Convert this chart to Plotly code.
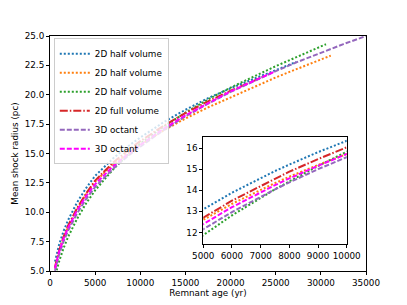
import plotly.graph_objects as go

# Remnant age (yr) and mean shock radius (pc) for each run
t_blue = [550, 750, 1000, 1500, 2000, 3000, 4000, 5000, 6000, 7000, 7500, 8000, 9000, 10000, 12500, 15000, 17500, 20000, 22500, 25000, 27300]
r_blue = [5.8, 6.49, 7.22, 8.39, 9.33, 10.84, 12.06, 13.1, 13.89, 14.59, 14.92, 15.23, 15.82, 16.36, 17.62, 18.72, 19.71, 20.55, 21.35, 22.1, 22.8]

t_orange = [550, 750, 1000, 1500, 2000, 3000, 4000, 5000, 6000, 7000, 7500, 8000, 9000, 10000, 12500, 15000, 17500, 20000, 22500, 25000, 27500, 30000, 31100]
r_orange = [5.21, 5.9, 6.62, 7.79, 8.73, 10.27, 11.53, 12.6, 13.36, 14.03, 14.35, 14.65, 15.21, 15.73, 16.93, 17.98, 18.92, 19.77, 20.65, 21.47, 22.24, 22.97, 23.33]

t_green = [740, 1000, 1500, 2000, 3000, 4000, 5000, 6000, 7000, 7500, 8000, 9000, 10000, 12500, 15000, 17500, 20000, 22500, 25000, 27500, 30570]
r_green = [5.06, 5.79, 6.94, 7.89, 9.45, 10.75, 11.87, 12.81, 13.65, 14.05, 14.43, 15.16, 15.84, 17.24, 18.48, 19.6, 20.61, 21.55, 22.43, 23.27, 24.3]

t_red = [550, 750, 1000, 1500, 2000, 3000, 4000, 5000, 6000, 7000, 7500, 8000, 9000, 10000, 12500, 15000, 17500, 20000, 22500, 23600]
r_red = [5.35, 6.0, 6.7, 7.9, 8.85, 10.35, 11.6, 12.7, 13.51, 14.23, 14.55, 14.89, 15.49, 16.05, 17.32, 18.44, 19.44, 20.34, 21.18, 21.53]

t_purple = [550, 750, 1000, 1500, 2000, 3000, 4000, 5000, 6000, 7000, 7500, 8000, 9000, 10000, 12500, 15000, 17500, 20000, 22500, 25000, 27500, 30000, 32500, 35000]
r_purple = [5.03, 5.69, 6.38, 7.51, 8.42, 9.9, 11.12, 12.15, 12.97, 13.71, 14.05, 14.38, 15.01, 15.58, 16.95, 18.16, 19.24, 20.24, 21.16, 22.01, 22.82, 23.59, 24.31, 25.0]

t_magenta = [550, 750, 1000, 1500, 2000, 3000, 4000, 5000, 6000, 7000, 7500, 8000, 9000, 10000, 12500, 15000, 17500, 20000, 22500, 24900]
r_magenta = [5.24, 5.92, 6.62, 7.75, 8.67, 10.16, 11.37, 12.4, 13.2, 13.92, 14.25, 14.57, 15.17, 15.73, 17.07, 18.25, 19.3, 20.28, 21.16, 21.97]

labels = ["2D half volume", "2D half volume", "2D half volume", "2D full volume", "3D octant", "3D octant"]
colors = ["#1f77b4", "#ff7f0e", "#2ca02c", "#d62728", "#9467bd", "#ff00ff"]
dashes = ["2px,2px", "2px,2px", "2px,2px", "8px,2px,1.5px,2px", "5px,2px", "5px,2px"]

main_x_ticks = [0, 5000, 10000, 15000, 20000, 25000, 30000, 35000]
main_y_ticks = [5.0, 7.5, 10.0, 12.5, 15.0, 17.5, 20.0, 22.5, 25.0]
inset_x_ticks = [5000, 6000, 7000, 8000, 9000, 10000]
inset_y_ticks = [12, 13, 14, 15, 16]

series = [(t_blue, r_blue), (t_orange, r_orange), (t_green, r_green),
          (t_red, r_red), (t_purple, r_purple), (t_magenta, r_magenta)]

FONT = "DejaVu Sans"
FS = 8.8

fig = go.Figure()
for (tx, ry), lab, col, dsh in zip(series, labels, colors, dashes):
    fig.add_trace(go.Scatter(x=tx, y=ry, mode="lines", name=lab,
                             line=dict(color=col, width=2, dash=dsh),
                             xaxis="x", yaxis="y"))
for (tx, ry), lab, col, dsh in zip(series, labels, colors, dashes):
    fig.add_trace(go.Scatter(x=tx, y=ry, mode="lines", name=lab, showlegend=False,
                             line=dict(color=col, width=2, dash=dsh),
                             xaxis="x2", yaxis="y2"))

ax_common = dict(showline=True, mirror=True, linecolor="black", linewidth=1,
                 ticks="outside", ticklen=3, tickwidth=1, tickcolor="black",
                 showgrid=False, zeroline=False, automargin=False,
                 tickfont=dict(family=FONT, size=FS, color="black"))

# white background for the inset
fig.add_shape(type="rect", xref="paper", yref="paper", x0=0.485, x1=0.939, y0=0.115, y1=0.571,
              fillcolor="white", line=dict(width=0), layer="below")

# page has an 8px body margin, so the figure is 399x297 and offset accordingly
fig.update_layout(
    width=399, height=297,
    margin=dict(l=42, r=41, t=28, b=34, autoexpand=False),
    paper_bgcolor="white", plot_bgcolor="white",
    font=dict(family=FONT, size=FS, color="black"),
    xaxis=dict(domain=[0, 1], range=[0, 35000], tickvals=main_x_ticks,
               ticktext=[str(v) for v in main_x_ticks],
               title=dict(text="Remnant age (yr)", font=dict(family=FONT, size=FS), standoff=2),
               **ax_common),
    yaxis=dict(domain=[0, 1], range=[5, 25], tickvals=main_y_ticks,
               ticktext=[f"{v:.1f}" for v in main_y_ticks],
               title=dict(text="Mean shock radius (pc)", font=dict(family=FONT, size=FS), standoff=4),
               **ax_common),
    xaxis2=dict(domain=[0.485, 0.939], range=[5000, 10000], anchor="y2",
                tickvals=inset_x_ticks, ticktext=[str(v) for v in inset_x_ticks], **ax_common),
    yaxis2=dict(domain=[0.115, 0.571], range=[11.45, 16.55], anchor="x2",
                tickvals=inset_y_ticks, ticktext=[str(v) for v in inset_y_ticks], **ax_common),
    legend=dict(x=0.012, y=0.99, xanchor="left", yanchor="top",
                bgcolor="rgba(255,255,255,0.8)", bordercolor="#cccccc", borderwidth=1,
                font=dict(family=FONT, size=FS), tracegroupgap=0, itemwidth=30),
    showlegend=True,
)

fig.write_html("out.html")
